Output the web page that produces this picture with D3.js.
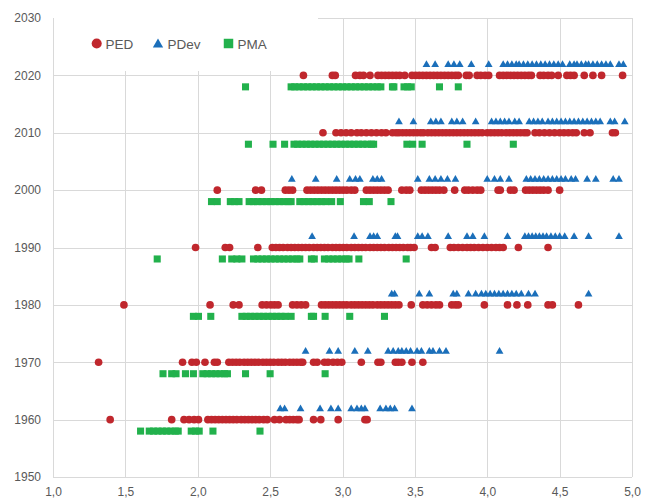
<!DOCTYPE html>
<html>
<head>
<meta charset="utf-8">
<script src="https://cdn.jsdelivr.net/npm/d3@7"></script>
<style>
  html, body { margin: 0; padding: 0; background: #fff; }
  svg { display: block; }
  text { font-family: "Liberation Sans", Arial, sans-serif; }
</style>
</head>
<body>
<svg id="chart" width="656" height="502"></svg>
<script>
// Axis ticks
const xTicks = [1.0, 1.5, 2.0, 2.5, 3.0, 3.5, 4.0, 4.5, 5.0];
const yTicks = [1950, 1960, 1970, 1980, 1990, 2000, 2010, 2020, 2030];

// Series names
const seriesNames = ["PED", "PDev", "PMA"];

// PED observations: one row per decade, x values along the row
const ped = [
  { y: 1960, x: [1.395, 1.82, 1.905, 1.94, 1.975, 2.005, 2.07, 2.095, 2.12, 2.145, 2.17, 2.195, 2.22, 2.245, 2.27, 2.3, 2.325, 2.35, 2.375, 2.4, 2.425, 2.455, 2.48, 2.53, 2.565, 2.61, 2.635, 2.66, 2.685, 2.70, 2.80, 2.85, 2.97, 3.155, 3.17] },
  { y: 1970, x: [1.315, 1.895, 1.96, 1.99, 2.05, 2.115, 2.135, 2.215, 2.24, 2.265, 2.29, 2.32, 2.345, 2.37, 2.395, 2.42, 2.45, 2.475, 2.50, 2.525, 2.555, 2.58, 2.605, 2.635, 2.66, 2.685, 2.71, 2.725, 2.80, 2.825, 2.875, 2.90, 2.935, 2.965, 2.995, 3.13, 3.245, 3.265, 3.365, 3.385, 3.41, 3.48, 3.555] },
  { y: 1980, x: [1.49, 2.085, 2.245, 2.285, 2.445, 2.475, 2.505, 2.53, 2.555, 2.655, 2.685, 2.715, 2.745, 2.855, 2.88, 2.905, 2.93, 2.955, 2.98, 3.005, 3.03, 3.06, 3.085, 3.11, 3.135, 3.16, 3.185, 3.21, 3.24, 3.265, 3.29, 3.315, 3.34, 3.365, 3.39, 3.475, 3.555, 3.585, 3.615, 3.645, 3.67, 3.755, 3.78, 3.80, 3.98, 4.14, 4.205, 4.28, 4.42, 4.45, 4.63] },
  { y: 1990, x: [1.985, 2.19, 2.22, 2.415, 2.515, 2.54, 2.565, 2.59, 2.62, 2.645, 2.67, 2.695, 2.72, 2.745, 2.77, 2.80, 2.825, 2.85, 2.875, 2.90, 2.93, 2.955, 2.98, 3.005, 3.03, 3.06, 3.085, 3.11, 3.135, 3.16, 3.19, 3.215, 3.24, 3.265, 3.29, 3.32, 3.345, 3.37, 3.395, 3.42, 3.45, 3.47, 3.495, 3.615, 3.64, 3.745, 3.77, 3.80, 3.83, 3.86, 3.885, 3.91, 3.94, 3.97, 4.00, 4.03, 4.06, 4.085, 4.11, 4.215, 4.42] },
  { y: 2000, x: [2.135, 2.40, 2.44, 2.605, 2.63, 2.655, 2.755, 2.78, 2.805, 2.83, 2.855, 2.88, 2.905, 2.93, 2.955, 2.98, 3.005, 3.03, 3.06, 3.085, 3.165, 3.19, 3.215, 3.24, 3.265, 3.29, 3.315, 3.41, 3.44, 3.465, 3.545, 3.57, 3.595, 3.62, 3.645, 3.67, 3.70, 3.775, 3.845, 3.87, 3.90, 3.93, 3.955, 4.075, 4.09, 4.16, 4.185, 4.265, 4.29, 4.315, 4.34, 4.365, 4.39, 4.42, 4.50] },
  { y: 2010, x: [2.865, 2.955, 2.99, 3.025, 3.06, 3.10, 3.13, 3.165, 3.20, 3.235, 3.27, 3.30, 3.345, 3.37, 3.39, 3.415, 3.44, 3.465, 3.49, 3.515, 3.54, 3.56, 3.59, 3.615, 3.64, 3.665, 3.69, 3.715, 3.74, 3.765, 3.79, 3.815, 3.84, 3.865, 3.89, 3.915, 3.94, 3.965, 4.00, 4.025, 4.05, 4.075, 4.10, 4.13, 4.155, 4.18, 4.205, 4.23, 4.255, 4.275, 4.33, 4.36, 4.395, 4.43, 4.465, 4.50, 4.53, 4.56, 4.59, 4.615, 4.67, 4.71, 4.865, 4.885] },
  { y: 2020, x: [2.73, 2.93, 2.95, 3.09, 3.12, 3.145, 3.19, 3.245, 3.27, 3.295, 3.32, 3.345, 3.37, 3.395, 3.43, 3.48, 3.505, 3.53, 3.555, 3.58, 3.605, 3.63, 3.655, 3.68, 3.705, 3.73, 3.755, 3.78, 3.80, 3.855, 3.875, 3.93, 3.955, 3.985, 4.01, 4.085, 4.11, 4.135, 4.16, 4.185, 4.21, 4.235, 4.26, 4.285, 4.305, 4.365, 4.39, 4.42, 4.445, 4.49, 4.55, 4.575, 4.60, 4.67, 4.73, 4.79, 4.935] }
];

// PDev observations, plotted two years above each decade
const pdev = [
  { y: 1962, x: [2.57, 2.60, 2.71, 2.845, 2.92, 2.97, 3.06, 3.10, 3.13, 3.155, 3.26, 3.30, 3.33, 3.36, 3.48] },
  { y: 1972, x: [2.745, 2.91, 2.97, 3.085, 3.175, 3.315, 3.35, 3.385, 3.41, 3.44, 3.47, 3.515, 3.545, 3.60, 3.625, 3.67, 3.715, 4.085] },
  { y: 1982, x: [3.34, 3.36, 3.53, 3.60, 3.765, 3.79, 3.87, 3.92, 3.96, 3.99, 4.02, 4.05, 4.08, 4.11, 4.14, 4.17, 4.20, 4.235, 4.285, 4.33, 4.70] },
  { y: 1992, x: [2.79, 3.08, 3.19, 3.215, 3.24, 3.365, 3.38, 3.52, 3.55, 3.59, 3.73, 3.86, 3.90, 3.98, 4.14, 4.26, 4.285, 4.31, 4.335, 4.36, 4.385, 4.41, 4.44, 4.47, 4.50, 4.535, 4.60, 4.70, 4.91] },
  { y: 2002, x: [2.65, 2.815, 2.96, 3.05, 3.09, 3.12, 3.21, 3.24, 3.27, 3.52, 3.60, 3.64, 3.68, 3.725, 3.78, 4.00, 4.05, 4.09, 4.15, 4.27, 4.30, 4.33, 4.36, 4.39, 4.42, 4.45, 4.48, 4.51, 4.54, 4.58, 4.61, 4.69, 4.75, 4.87, 4.91] },
  { y: 2012, x: [3.39, 3.49, 3.61, 3.645, 3.68, 3.755, 3.79, 3.83, 3.92, 4.03, 4.06, 4.09, 4.12, 4.15, 4.19, 4.22, 4.29, 4.32, 4.35, 4.38, 4.42, 4.45, 4.48, 4.51, 4.54, 4.57, 4.60, 4.63, 4.66, 4.69, 4.72, 4.75, 4.78, 4.85, 4.88, 4.95] },
  { y: 2022, x: [3.58, 3.64, 3.73, 3.77, 3.81, 3.89, 4.01, 4.11, 4.14, 4.17, 4.20, 4.22, 4.25, 4.28, 4.31, 4.34, 4.37, 4.40, 4.43, 4.46, 4.49, 4.52, 4.57, 4.60, 4.62, 4.65, 4.68, 4.70, 4.73, 4.76, 4.79, 4.82, 4.85, 4.91, 4.94] }
];

// PMA observations, plotted two years below each decade
const pma = [
  { y: 1958, x: [1.605, 1.665, 1.695, 1.725, 1.755, 1.785, 1.815, 1.845, 1.865, 1.955, 1.985, 2.01, 2.105, 2.43] },
  { y: 1968, x: [1.76, 1.82, 1.85, 1.915, 1.97, 2.035, 2.065, 2.095, 2.125, 2.155, 2.185, 2.205, 2.33, 2.50, 2.88] },
  { y: 1978, x: [1.97, 2.005, 2.09, 2.305, 2.335, 2.365, 2.395, 2.425, 2.455, 2.485, 2.515, 2.545, 2.575, 2.605, 2.645, 2.785, 2.80, 2.88, 3.05, 3.29] },
  { y: 1988, x: [1.72, 2.17, 2.235, 2.27, 2.305, 2.385, 2.415, 2.445, 2.475, 2.505, 2.535, 2.565, 2.595, 2.625, 2.655, 2.685, 2.705, 2.785, 2.805, 2.875, 2.905, 2.935, 2.965, 2.995, 3.025, 3.045, 3.113, 3.44] },
  { y: 1998, x: [2.095, 2.135, 2.225, 2.255, 2.285, 2.355, 2.385, 2.415, 2.445, 2.475, 2.505, 2.535, 2.565, 2.595, 2.625, 2.645, 2.705, 2.735, 2.765, 2.795, 2.825, 2.855, 2.885, 2.925, 2.985, 3.145, 3.185, 3.335] },
  { y: 2008, x: [2.35, 2.52, 2.60, 2.665, 2.69, 2.72, 2.75, 2.78, 2.81, 2.84, 2.87, 2.90, 2.93, 2.96, 2.99, 3.02, 3.05, 3.08, 3.11, 3.14, 3.17, 3.20, 3.215, 3.445, 3.485, 3.55, 3.86, 4.18] },
  { y: 2018, x: [2.33, 2.645, 2.67, 2.70, 2.73, 2.76, 2.79, 2.82, 2.85, 2.88, 2.91, 2.94, 2.97, 3.00, 3.03, 3.06, 3.09, 3.12, 3.15, 3.18, 3.21, 3.24, 3.265, 3.345, 3.355, 3.425, 3.45, 3.475, 3.67, 3.80] }
];

const colors = { PED: "#c0272d", PDev: "#1b6fba", PMA: "#22b14c" };

const svg = d3.select("#chart");
const W = 656, H = 502;
const plot = { left: 53, right: 632, top: 18, bottom: 477 };

svg.append("rect").attr("width", W).attr("height", H).attr("fill", "#fff");

const x = d3.scaleLinear().domain([1, 5]).range([plot.left, plot.right]);
const y = d3.scaleLinear().domain([1950, 2030]).range([plot.bottom, plot.top]);

const commaFmt = d3.formatLocale({ decimal: ",", thousands: ".", grouping: [3], currency: ["", ""] }).format(".1f");

// Horizontal gridlines with year labels
const yAxis = svg.append("g")
  .attr("transform", `translate(${plot.left},0)`)
  .call(d3.axisLeft(y).tickValues(yTicks).tickFormat(d3.format("d"))
    .tickSize(-(plot.right - plot.left)).tickPadding(12));

// Vertical gridlines with value labels
const xAxis = svg.append("g")
  .attr("transform", `translate(0,${plot.bottom})`)
  .call(d3.axisBottom(x).tickValues(xTicks).tickFormat(commaFmt)
    .tickSize(-(plot.bottom - plot.top)).tickPadding(10));

[xAxis, yAxis].forEach(g => {
  g.select(".domain").remove();
  g.selectAll(".tick line").attr("stroke", "#d9d9d9").attr("stroke-width", 1).attr("shape-rendering", "crispEdges");
  g.selectAll(".tick text").attr("fill", "#595959").style("font-size", "12px")
    .style("font-family", "'Liberation Sans', Arial, sans-serif");
});

// Legend panel sits over the top-left of the grid
const legend = svg.append("g");
legend.append("rect")
  .attr("x", plot.left + 1).attr("y", 6)
  .attr("width", 318 - plot.left - 1).attr("height", 65)
  .attr("fill", "#fff");

const symbols = {
  PED: d3.symbolCircle,
  PDev: d3.symbolTriangle,
  PMA: d3.symbolSquare
};
const markSize = { PED: 46, PDev: 26, PMA: 50 };
const legendSize = { PED: 80, PDev: 46, PMA: 90 };

const legendItems = [
  { name: seriesNames[0], mx: 96.7, tx: 105.5 },
  { name: seriesNames[1], mx: 158, tx: 167.5 },
  { name: seriesNames[2], mx: 228.5, tx: 237.5 }
];
legendItems.forEach(it => {
  legend.append("path")
    .attr("d", d3.symbol().type(symbols[it.name]).size(legendSize[it.name])())
    .attr("transform", `translate(${it.mx},${it.name === "PDev" ? 44.5 : 43.5})`)
    .attr("fill", colors[it.name]);
  legend.append("text")
    .attr("x", it.tx).attr("y", 48.5)
    .attr("fill", "#595959")
    .style("font-size", "13.5px")
    .text(it.name);
});

// Scatter marks for each series
function drawSeries(rows, name) {
  const pts = rows.flatMap(r => r.x.map(v => ({ x: v, y: r.y })));
  const gen = d3.symbol().type(symbols[name]).size(markSize[name]);
  svg.append("g").attr("class", "series-" + name)
    .selectAll("path").data(pts).join("path")
    .attr("d", gen())
    .attr("transform", d => `translate(${x(d.x)},${y(d.y) + (name === "PDev" ? 0.8 : 0)})`)
    .attr("fill", colors[name]);
}
drawSeries(ped, "PED");
drawSeries(pdev, "PDev");
drawSeries(pma, "PMA");
</script>
</body>
</html>
